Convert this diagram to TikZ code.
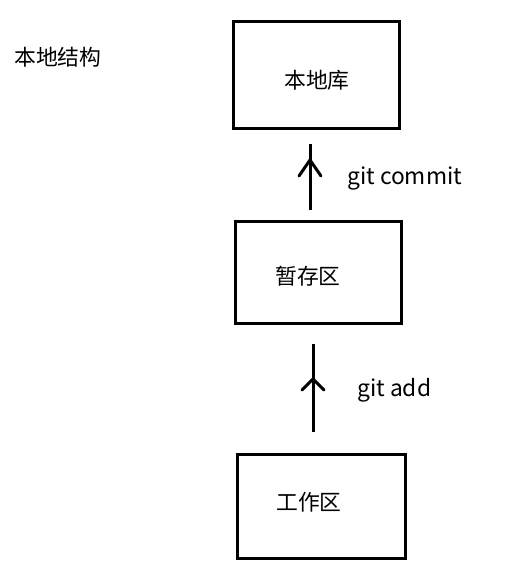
\documentclass[tikz,border=0pt]{standalone}
\usepackage{fontspec}
\setmainfont{Noto Sans CJK SC}
\begin{document}
\begin{tikzpicture}[x=1pt,y=-1pt,
  lbl/.style={font=\fontsize{21.8}{26}\selectfont,inner sep=0pt},
  glbl/.style={font=\fontsize{22.8}{27}\selectfont,inner sep=0pt},
  stem/.style={draw=black,line width=3pt},
  chev/.style={draw=black,line width=3pt,line cap=round,line join=round}]
\useasboundingbox (0,0) rectangle (504,585);
% boxes
\node[draw=black,line width=3pt,minimum width=166pt,minimum height=107pt,inner sep=0pt] (repo) at (316.5,75.5) {};
\node[draw=black,line width=3pt,minimum width=166pt,minimum height=102pt,inner sep=0pt] (stage) at (318,272.5) {};
\node[draw=black,line width=3pt,minimum width=168pt,minimum height=104pt,inner sep=0pt] (work) at (321,506) {};
% texts
\node[lbl] (trepo) at (317,80) {本地库};
\node[lbl] (tstage) at (308,276) {暂存区};
\node[lbl] (twork) at (309,502) {工作区};
\node[lbl,anchor=west] (title) at (14,57) {本地结构};
\node[glbl,anchor=west] (commit) at (347,179) {git commit};
\node[glbl,anchor=west] (add) at (357,390) {git add};
% arrows
\coordinate (a1s) at (310,210);
\coordinate (a1e) at (310,144);
\coordinate (a1p) at (310,160);
\coordinate (a2s) at (313,432);
\coordinate (a2e) at (313,344);
\coordinate (a2p) at (313,379);
\draw[stem] (a1s) -- (a1e);
\draw[chev] ([shift={(-11,16)}]a1p) -- (a1p) -- ([shift={(11,16)}]a1p);
\draw[stem] (a2s) -- (a2e);
\draw[chev] ([shift={(-11,11)}]a2p) -- (a2p) -- ([shift={(11,11)}]a2p);
\end{tikzpicture}
\end{document}
